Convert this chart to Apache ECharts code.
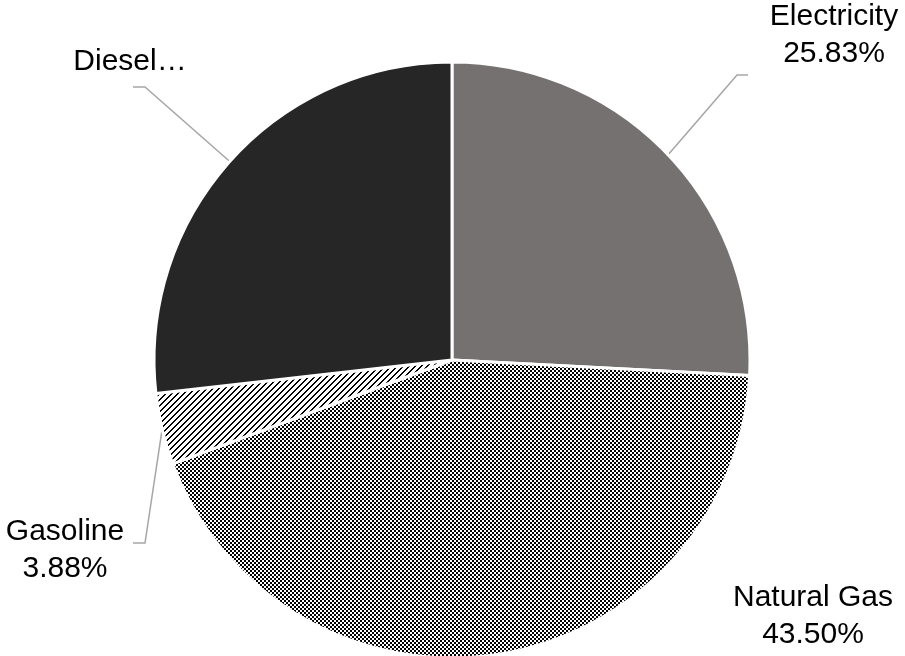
<!DOCTYPE html>
<html><head><meta charset="utf-8">
<script src="https://cdn.jsdelivr.net/npm/echarts@6/dist/echarts.min.js"></script>
<style>html,body{margin:0;padding:0;background:#fff}#c{width:905px;height:656px}</style>
</head><body><div id="c"></div>
<script>
// ---- data ----
const categories = ['Electricity', 'Natural Gas', 'Gasoline', 'Diesel'];
const shares = [25.83, 43.50, 3.88, 26.79];
const shownLabels = ['Electricity\n25.83%', 'Natural Gas\n43.50%', 'Gasoline\n3.88%', 'Diesel…'];

// ---- layout / style config ----
const labelPos = [[834, 35], [813, 616], [65, 550], [130, 62]];
const leaderBends = [[[737, 75], [748, 75]], null, [[145, 543], [133, 543]], [[145, 87], [133, 87]]];

function makePattern(size, isDark) {
  const cv = document.createElement('canvas');
  cv.width = size; cv.height = size;
  const ctx = cv.getContext('2d');
  ctx.fillStyle = '#ffffff';
  ctx.fillRect(0, 0, size, size);
  ctx.fillStyle = '#000000';
  for (let y = 0; y < size; y++) for (let x = 0; x < size; x++) {
    if (isDark(x, y)) ctx.fillRect(x, y, 1, 1);
  }
  return cv;
}
const checker = makePattern(4, (x, y) => ((Math.floor(x / 2) + Math.floor(y / 2)) % 2) === 0);
const stripes = makePattern(6, (x, y) => ((x + y) % 6) < 2);

const fills = [
  '#767171',
  { image: checker, repeat: 'repeat' },
  { image: stripes, repeat: 'repeat' },
  '#262626'
];

const chart = echarts.init(document.getElementById('c'), null, { renderer: 'canvas' });
chart.setOption({
  animation: false,
  backgroundColor: '#ffffff',
  series: [{
    type: 'pie',
    center: [452, 360],
    radius: 298,
    startAngle: 90,
    clockwise: true,
    avoidLabelOverlap: false,
    data: categories.map((c, i) => ({
      name: c,
      value: shares[i],
      itemStyle: { color: fills[i] },
      labelLine: { show: leaderBends[i] !== null }
    })),
    itemStyle: { borderColor: '#ffffff', borderWidth: 3 },
    label: {
      show: true,
      position: 'outside',
      formatter: p => shownLabels[p.dataIndex],
      fontFamily: 'Liberation Sans, Arial, sans-serif',
      fontSize: 30,
      lineHeight: 37,
      color: '#000000',
      align: 'center'
    },
    labelLine: {
      show: true,
      length: 20,
      length2: 12,
      smooth: false,
      lineStyle: { color: '#a6a6a6', width: 1.5 }
    },
    labelLayout: function (params) {
      const i = params.dataIndex;
      const p = labelPos[i];
      const out = { x: p[0], y: p[1], align: 'center', verticalAlign: 'middle', hideOverlap: false, moveOverlap: false };
      const b = leaderBends[i];
      if (b && params.labelLinePoints) {
        out.labelLinePoints = [params.labelLinePoints[0], b[0], b[1]];
      }
      return out;
    },
    emphasis: { disabled: true }
  }]
});
</script>
</body></html>
